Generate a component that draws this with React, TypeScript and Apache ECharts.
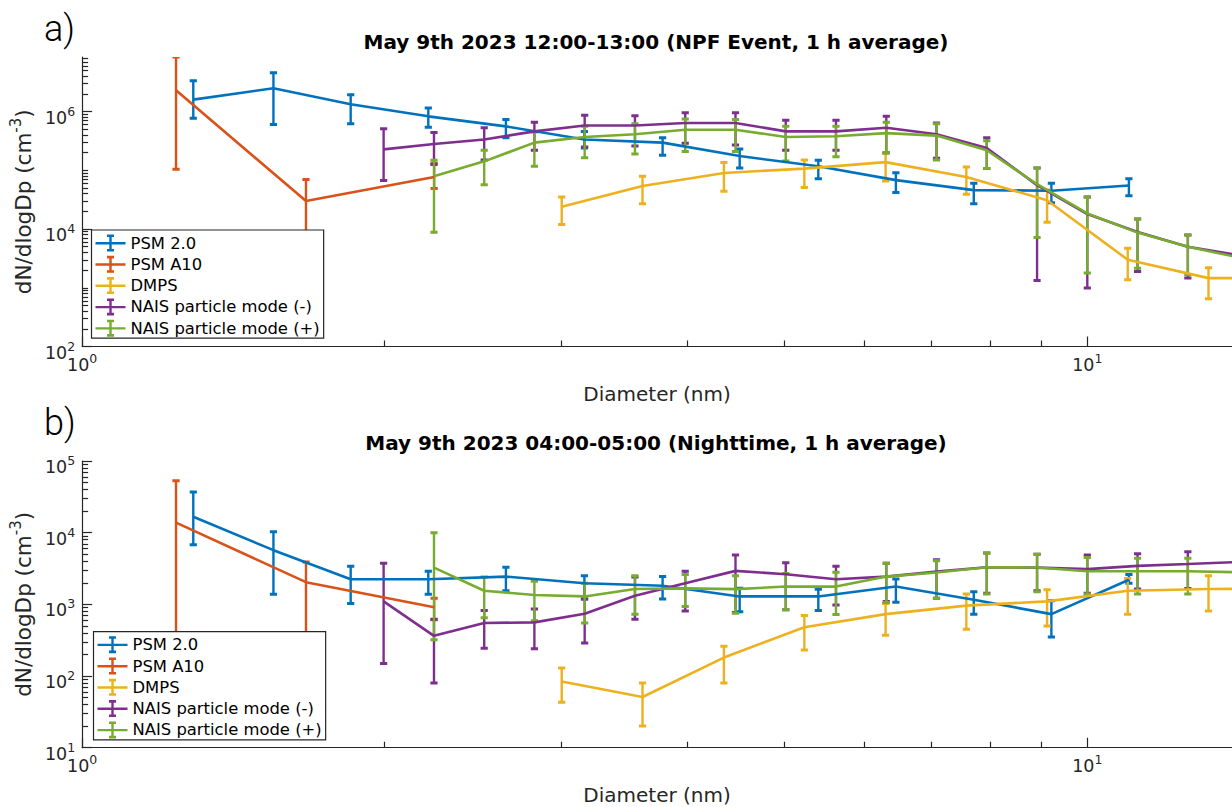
import React, { useEffect, useRef } from "react";
import * as echarts from "echarts";

// ---------------- data ----------------
const SERIES_NAMES = ["PSM 2.0", "PSM A10", "DMPS", "NAIS particle mode (-)", "NAIS particle mode (+)"];
const SERIES_COLORS = ["#0072BD", "#D95319", "#EDB120", "#7E2F8E", "#77AC30"];

// diameters (nm)
const PSM20_DP = [1.29, 1.55, 1.85, 2.21, 2.64, 3.16, 3.78, 4.51, 5.40, 6.45, 7.71, 9.21, 11.0];
const A10_DP = [1.24, 1.67, 2.24];
const DMPS_DP = [3.0, 3.61, 4.35, 5.23, 6.30, 7.58, 9.12, 10.97, 13.2, 15.9];
const NAISN_DP = [1.995, 2.239, 2.512, 2.818, 3.162, 3.548, 3.981, 4.467, 5.012, 5.623, 6.31, 7.079, 7.943, 8.913, 10.0, 11.22, 12.59, 14.13];
const NAISP_DP = [2.239, 2.512, 2.818, 3.162, 3.548, 3.981, 4.467, 5.012, 5.623, 6.31, 7.079, 7.943, 8.913, 10.0, 11.22, 12.59, 14.13];

// panel a) NPF event
const A_PSM20 = [1.6e6, 2.5e6, 1.33e6, 8.3e5, 5.6e5, 3.35e5, 2.96e5, 1.75e5, 1.17e5, 6.8e4, 4.6e4, 4.5e4, 5.5e4];
const A_PSM20_LO = [7.7e5, 6.0e5, 6.2e5, 5.4e5, 3.6e5, 2.4e5, 1.8e5, 1.1e5, 7.2e4, 4.2e4, 2.7e4, 2.8e4, 3.7e4];
const A_PSM20_HI = [3.35e6, 4.6e6, 1.94e6, 1.15e6, 7.3e5, 4.6e5, 3.6e5, 2.3e5, 1.48e5, 9.1e4, 6.0e4, 6.0e4, 7.2e4];

const A_A10 = [2.3e6, 3.0e4, 7.7e4];
const A_A10_LO = [1.04e5, 2.0e3, 4.9e4];
const A_A10_HI = [8.5e6, 7.0e4, 1.3e5];

const A_DMPS = [2.4e4, 5.4e4, 9.0e4, 1.07e5, 1.38e5, 7.7e4, 3.1e4, 3.0e3, 1.46e3, 1.45e3];
const A_DMPS_LO = [1.2e4, 2.7e4, 4.4e4, 5.1e4, 6.6e4, 3.9e4, 1.3e4, 1.37e3, 6.5e2, 6.5e2];
const A_DMPS_HI = [3.5e4, 7.9e4, 1.36e5, 1.5e5, 1.96e5, 1.14e5, 4.6e4, 4.7e3, 2.2e3, 2.2e3];

const A_NAISN = [2.27e5, 2.8e5, 3.35e5, 4.6e5, 5.8e5, 5.8e5, 6.4e5, 6.4e5, 4.6e5, 4.6e5, 5.3e5, 4.1e5, 2.4e5, 5.6e4, 1.8e4, 8.9e3, 5.0e3, 3.6e3];
const A_NAISN_LO = [6.7e4, 1.26e5, 1.5e5, 2.2e5, 2.5e5, 2.6e5, 2.9e5, 2.7e5, 2.2e5, 2.2e5, 2.0e5, 1.6e5, 1.07e5, 1.33e3, 9.9e2, 1.9e3, 1.46e3, 1.4e3];
const A_NAISN_HI = [5.1e5, 4.4e5, 5.3e5, 6.6e5, 8.7e5, 8.5e5, 9.6e5, 9.6e5, 7.1e5, 7.1e5, 8.3e5, 6.4e5, 3.6e5, 1.1e5, 3.5e4, 1.48e4, 7.9e3, 6.0e3];

const A_NAISP = [7.9e4, 1.42e5, 2.96e5, 3.7e5, 4.1e5, 4.9e5, 4.9e5, 3.7e5, 3.8e5, 4.3e5, 3.9e5, 2.2e5, 5.8e4, 1.84e4, 8.7e3, 5.0e3, 3.3e3];
const A_NAISP_LO = [8.8e3, 5.7e4, 1.17e5, 1.64e5, 1.9e5, 2.1e5, 2.1e5, 1.44e5, 1.7e5, 2.0e5, 1.5e5, 1.07e5, 7.2e3, 1.78e3, 2.15e3, 1.66e3, 1.2e3];
const A_NAISP_HI = [1.48e5, 2.2e5, 4.5e5, 5.6e5, 6.2e5, 7.5e5, 7.3e5, 5.6e5, 5.6e5, 6.6e5, 6.2e5, 3.2e5, 1.1e5, 3.5e4, 1.48e4, 7.9e3, 5.5e3];

// panel b) nighttime
const B_PSM20 = [1.67e4, 5.7e3, 2.24e3, 2.24e3, 2.44e3, 1.97e3, 1.82e3, 1.29e3, 1.29e3, 1.77e3, 1.16e3, 7.3e2, 2.2e3];
const B_PSM20_LO = [6.8e3, 1.38e3, 1.03e3, 1.38e3, 1.55e3, 1.19e3, 1.19e3, 7.9e2, 8.2e2, 1.07e3, 7.3e2, 3.5e2, 1.97e3];
const B_PSM20_HI = [3.7e4, 1.03e4, 3.4e3, 2.9e3, 3.3e3, 2.5e3, 2.44e3, 1.68e3, 1.63e3, 2.26e3, 1.5e3, 1.12e3, 2.6e3];

const B_A10 = [1.38e4, 2.04e3, 9.1e2];
const B_A10_LO = [30, 30, 6.1e2];
const B_A10_HI = [5.3e4, 3.9e3, 1.22e3];

const B_DMPS = [84, 51, 181, 480, 730, 960, 1.1e3, 1.55e3, 1.64e3, 1.65e3];
const B_DMPS_LO = [43, 20, 80, 230, 370, 450, 500, 730, 810, 800];
const B_DMPS_HI = [129, 80, 260, 700, 1.03e3, 1.4e3, 1.6e3, 2.3e3, 2.5e3, 2.5e3];

const B_NAISN = [1.1e3, 364, 550, 560, 740, 1.32e3, 1.97e3, 2.93e3, 2.63e3, 2.24e3, 2.44e3, 2.86e3, 3.3e3, 3.25e3, 3.1e3, 3.44e3, 3.66e3, 3.9e3];
const B_NAISN_LO = [150, 80, 245, 240, 290, 620, 810, 770, 840, 980, 1.1e3, 1.22e3, 1.43e3, 1.55e3, 1.43e3, 1.64e3, 1.67e3, 1.8e3];
const B_NAISN_HI = [3.75e3, 620, 820, 860, 1.19e3, 2.4e3, 2.9e3, 4.9e3, 3.8e3, 3.4e3, 3.75e3, 4.2e3, 5.2e3, 5.0e3, 4.9e3, 5.1e3, 5.4e3, 5.8e3];

const B_NAISP = [3.26e3, 1.55e3, 1.35e3, 1.29e3, 1.64e3, 1.67e3, 1.63e3, 1.77e3, 1.77e3, 2.44e3, 2.78e3, 3.3e3, 3.26e3, 2.9e3, 2.9e3, 2.9e3, 2.8e3];
const B_NAISP_LO = [320, 650, 590, 550, 730, 930, 750, 840, 720, 1.06e3, 1.22e3, 1.4e3, 1.5e3, 1.4e3, 1.4e3, 1.4e3, 1.3e3];
const B_NAISP_HI = [1.0e4, 2.4e3, 2.1e3, 1.97e3, 2.5e3, 2.6e3, 2.5e3, 2.7e3, 2.8e3, 3.75e3, 4.05e3, 5.2e3, 5.0e3, 4.5e3, 4.4e3, 4.4e3, 4.3e3];

// axis limits and tick labels
const X_MIN = 1;
const X_MAX = 13.93;
const YA_MIN = 1e2;
const YA_MAX = 8.5e6;
const YB_MIN = 1e1;
const YB_MAX = 1e5;
const X_LABELS = [1, 10];
const YA_LABELS = [1e2, 1e4, 1e6];
const YB_LABELS = [1e1, 1e2, 1e3, 1e4, 1e5];

const TITLE_A = "May 9th 2023 12:00-13:00 (NPF Event, 1 h average)";
const TITLE_B = "May 9th 2023 04:00-05:00 (Nighttime, 1 h average)";
const X_NAME = "Diameter (nm)";

// ---------------- styling / helpers ----------------
const FONT = "'DejaVu Sans', sans-serif";
const AX = "#262626";
const LOG = (v: number) => Math.log10(v);

const LEGEND_ICON = "path://M0,7.5h30v2.4h-30z M13.8,0h2.4v17h-2.4z M11.5,0h7v2.6h-7z M11.5,14.4h7v2.6h-7z";

function minorTicks(lo: number, hi: number, majors: number[]) {
  const out: number[] = [];
  for (let e = Math.floor(LOG(lo)); e <= Math.ceil(LOG(hi)); e++) {
    for (let k = 1; k <= 9; k++) {
      const v = k * Math.pow(10, e);
      if (v < lo * 0.999 || v > hi * 1.001) continue;
      if (majors.some((m) => Math.abs(m - v) / m < 1e-6)) continue;
      out.push(LOG(v));
    }
  }
  return out;
}

const powLabel = (v: number) => `{b|10}{s|${Math.round(v)}}`;
const RICH_TICK = {
  b: { fontSize: 17.5, lineHeight: 22, verticalAlign: "bottom", color: AX, fontFamily: FONT },
  s: { fontSize: 12.5, lineHeight: 9, verticalAlign: "top", color: AX, fontFamily: FONT },
};
const RICH_NAME = {
  b: { fontSize: 21.5, lineHeight: 26, verticalAlign: "bottom", color: AX, fontFamily: FONT },
  s: { fontSize: 15, lineHeight: 12, verticalAlign: "top", color: AX, fontFamily: FONT },
};

function dataXAxis(gridIndex: number) {
  return { type: "log", gridIndex, position: "bottom", min: X_MIN, max: X_MAX, show: false };
}
function dataYAxis(gridIndex: number, min: number, max: number) {
  return { type: "log", gridIndex, position: "left", min, max, show: false };
}
function majorXAxis(gridIndex: number) {
  return {
    type: "value", gridIndex, position: "bottom", min: LOG(X_MIN), max: LOG(X_MAX),
    axisLine: { show: true, onZero: false, lineStyle: { color: AX, width: 1.2 } },
    axisTick: { show: true, inside: true, length: 10, customValues: X_LABELS.map(LOG), lineStyle: { color: AX, width: 1.2 } },
    axisLabel: { show: true, customValues: X_LABELS.map(LOG), margin: 5, formatter: powLabel, rich: RICH_TICK, showMinLabel: true, showMaxLabel: true },
    splitLine: { show: false },
    name: X_NAME, nameLocation: "middle", nameGap: 37.5,
    nameTextStyle: { fontSize: 20, color: AX, fontFamily: FONT },
  };
}
function minorXAxis(gridIndex: number) {
  return {
    type: "value", gridIndex, position: "bottom", min: LOG(X_MIN), max: LOG(X_MAX),
    axisLine: { show: false, onZero: false },
    axisTick: { show: true, inside: true, length: 6, customValues: minorTicks(X_MIN, X_MAX, X_LABELS), lineStyle: { color: AX, width: 1.2 } },
    axisLabel: { show: false },
    splitLine: { show: false },
  };
}
function majorYAxis(gridIndex: number, min: number, max: number, labels: number[]) {
  return {
    type: "value", gridIndex, position: "left", min: LOG(min), max: LOG(max),
    axisLine: { show: true, onZero: false, lineStyle: { color: AX, width: 1.2 } },
    axisTick: { show: true, inside: true, length: 10, customValues: labels.map(LOG), lineStyle: { color: AX, width: 1.2 } },
    axisLabel: { show: true, customValues: labels.map(LOG), margin: 7, formatter: powLabel, rich: RICH_TICK, padding: [8, 0, 0, 0], showMinLabel: true, showMaxLabel: true },
    splitLine: { show: false },
    name: "{b|dN/dlogDp (cm}{s|-3}{b|)}", nameLocation: "middle", nameGap: 41,
    nameTextStyle: { rich: RICH_NAME },
  };
}
function minorYAxis(gridIndex: number, min: number, max: number, labels: number[]) {
  return {
    type: "value", gridIndex, position: "left", min: LOG(min), max: LOG(max),
    axisLine: { show: false, onZero: false },
    axisTick: { show: true, inside: true, length: 6, customValues: minorTicks(min, max, labels), lineStyle: { color: AX, width: 1.2 } },
    axisLabel: { show: false },
    splitLine: { show: false },
  };
}

function lineSeries(name: string, color: string, dp: number[], mid: number[], xi: number, yi: number) {
  return {
    type: "line", name, xAxisIndex: xi, yAxisIndex: yi,
    data: dp.map((d, i) => [d, mid[i]]),
    symbol: "none", clip: true, silent: true,
    lineStyle: { color, width: 2.6 }, itemStyle: { color },
  };
}
function errSeries(name: string, color: string, dp: number[], lo: number[], hi: number[], xi: number, yi: number) {
  return {
    type: "custom", name, xAxisIndex: xi, yAxisIndex: yi, clip: true, silent: true,
    dimensions: ["dp", "lo", "hi"],
    encode: { x: 0, y: [1, 2] },
    data: dp.map((d, i) => [d, lo[i], hi[i]]),
    itemStyle: { color },
    renderItem: (_params: any, api: any) => {
      const x = api.value(0);
      const pt = api.coord([x, api.value(2)]);
      const pb = api.coord([x, api.value(1)]);
      const w = 3.6;
      return {
        type: "group",
        children: [
          { type: "line", shape: { x1: pt[0], y1: pt[1], x2: pb[0], y2: pb[1] }, style: { stroke: color, lineWidth: 2.4 } },
          { type: "line", shape: { x1: pt[0] - w, y1: pt[1], x2: pt[0] + w, y2: pt[1] }, style: { stroke: color, lineWidth: 3 } },
          { type: "line", shape: { x1: pb[0] - w, y1: pb[1], x2: pb[0] + w, y2: pb[1] }, style: { stroke: color, lineWidth: 3 } },
        ],
      };
    },
  };
}

function panelSeries(sets: any[], xi: number, yi: number) {
  const out: any[] = [];
  sets.forEach((s, k) => {
    out.push(lineSeries(SERIES_NAMES[k], SERIES_COLORS[k], s[0], s[1], xi, yi));
    out.push(errSeries(SERIES_NAMES[k], SERIES_COLORS[k], s[0], s[2], s[3], xi, yi));
  });
  return out;
}

function legendAt(top: number, left: number) {
  return {
    data: SERIES_NAMES, orient: "vertical", left, top, z: 10,
    icon: LEGEND_ICON, itemWidth: 30, itemHeight: 17, itemGap: 4.3,
    padding: [4.5, 4, 1.5, 4],
    backgroundColor: "#ffffff", borderColor: AX, borderWidth: 1.2, borderRadius: 0,
    itemStyle: { borderWidth: 0 },
    textStyle: { fontSize: 16.4, color: "#000", fontFamily: FONT },
  };
}

export default function App() {
  const ref = useRef<HTMLDivElement>(null);
  useEffect(() => {
    if (!ref.current) return;
    const chart = echarts.init(ref.current, undefined, { renderer: "svg" });
    const setsA = [
      [PSM20_DP, A_PSM20, A_PSM20_LO, A_PSM20_HI],
      [A10_DP, A_A10, A_A10_LO, A_A10_HI],
      [DMPS_DP, A_DMPS, A_DMPS_LO, A_DMPS_HI],
      [NAISN_DP, A_NAISN, A_NAISN_LO, A_NAISN_HI],
      [NAISP_DP, A_NAISP, A_NAISP_LO, A_NAISP_HI],
    ];
    const setsB = [
      [PSM20_DP, B_PSM20, B_PSM20_LO, B_PSM20_HI],
      [A10_DP, B_A10, B_A10_LO, B_A10_HI],
      [DMPS_DP, B_DMPS, B_DMPS_LO, B_DMPS_HI],
      [NAISN_DP, B_NAISN, B_NAISN_LO, B_NAISN_HI],
      [NAISP_DP, B_NAISP, B_NAISP_LO, B_NAISP_HI],
    ];
    const option: any = {
      animation: false,
      backgroundColor: "#ffffff",
      textStyle: { fontFamily: FONT },
      grid: [
        { left: 80, top: 57, width: 1152, height: 289.5, containLabel: false },
        { left: 80, top: 461, width: 1152, height: 286.7, containLabel: false },
      ],
      xAxis: [dataXAxis(0), majorXAxis(0), minorXAxis(0), dataXAxis(1), majorXAxis(1), minorXAxis(1)],
      yAxis: [
        dataYAxis(0, YA_MIN, YA_MAX), majorYAxis(0, YA_MIN, YA_MAX, YA_LABELS), minorYAxis(0, YA_MIN, YA_MAX, YA_LABELS),
        dataYAxis(1, YB_MIN, YB_MAX), majorYAxis(1, YB_MIN, YB_MAX, YB_LABELS), minorYAxis(1, YB_MIN, YB_MAX, YB_LABELS),
      ],
      legend: [legendAt(230, 91.5), legendAt(631.7, 93.5)],
      series: [...panelSeries(setsA, 0, 0), ...panelSeries(setsB, 3, 3)],
      graphic: [
        { type: "text", x: 656, y: 42, style: { text: TITLE_A, align: "center", verticalAlign: "middle", fontSize: 20, fontWeight: "bold", fontFamily: FONT, fill: "#000" } },
        { type: "text", x: 656, y: 443, style: { text: TITLE_B, align: "center", verticalAlign: "middle", fontSize: 20, fontWeight: "bold", fontFamily: FONT, fill: "#000" } },
        { type: "text", x: 44, y: 29, style: { text: "a)", align: "left", verticalAlign: "middle", fontSize: 36, fontWeight: 300, fontFamily: "Roboto, 'Liberation Sans', sans-serif", fill: "#000" } },
        { type: "text", x: 44, y: 423, style: { text: "b)", align: "left", verticalAlign: "middle", fontSize: 36, fontWeight: 300, fontFamily: "Roboto, 'Liberation Sans', sans-serif", fill: "#000" } },
      ],
    };
    chart.setOption(option);
    return () => chart.dispose();
  }, []);
  return <div ref={ref} style={{ position: "absolute", left: 0, top: 0, width: 1232, height: 807, background: "#fff" }} />;
}
